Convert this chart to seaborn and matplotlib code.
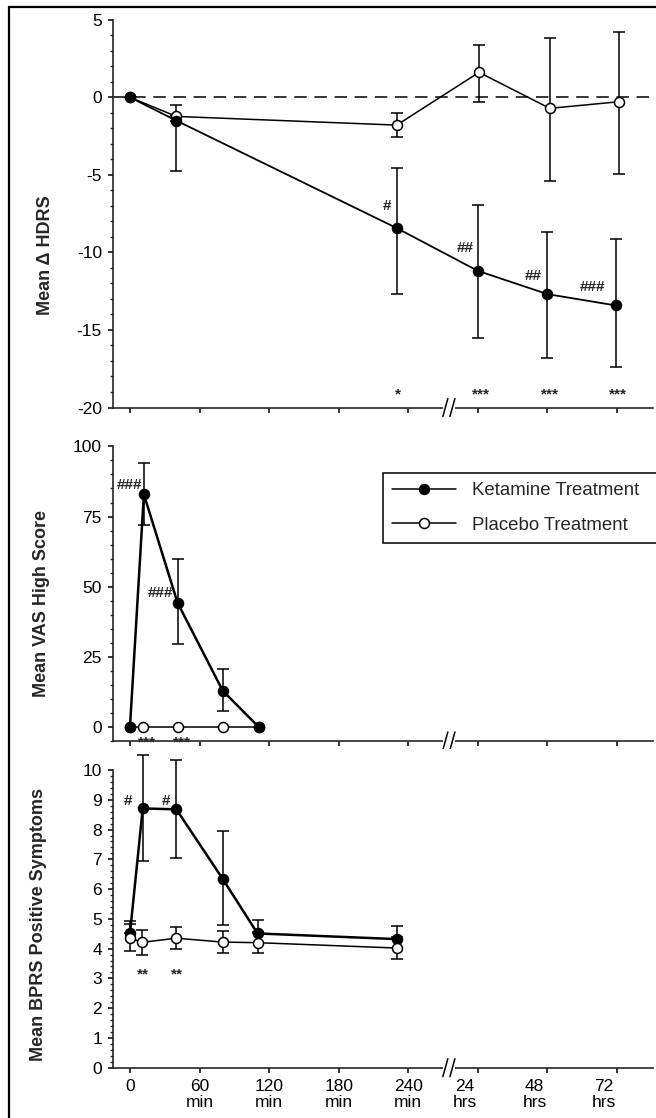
import numpy as np
import pandas as pd
import matplotlib
matplotlib.use("Agg")
import matplotlib.pyplot as plt
import matplotlib.transforms as mtransforms
from matplotlib.lines import Line2D
from matplotlib.ticker import MultipleLocator, FixedLocator
import seaborn as sns

# ---------------- data ----------------
# time axis in minutes; after the axis break 300 = 24 hrs, 360 = 48 hrs, 420 = 72 hrs
tick_positions = [0, 60, 120, 180, 240, 300, 360, 420]
tick_labels = ["0", "60\nmin", "120\nmin", "180\nmin", "240\nmin", "24\nhrs", "48\nhrs", "72\nhrs"]
legend_labels = ["Ketamine Treatment", "Placebo Treatment"]
ylabels = ["Mean \u0394 HDRS", "Mean VAS High Score", "Mean BPRS Positive Symptoms"]

# Panel 1: Mean change in HDRS
hdrs_ket_t = [0, 40, 230, 300, 360, 419]
hdrs_ket = [0.0, -1.5, -8.43, -11.19, -12.69, -13.42]
hdrs_ket_lo = [0, 3.27, 4.27, 4.36, 4.13, 4.0]
hdrs_ket_hi = [0, 0, 3.9, 4.22, 4.0, 4.26]
hdrs_pla_t = [0, 40, 230, 301, 362, 422]
hdrs_pla = [0.0, -1.23, -1.79, 1.61, -0.71, -0.28]
hdrs_pla_lo = [0, 0, 0.75, 1.93, 4.67, 4.67]
hdrs_pla_hi = [0, 0.75, 0.76, 1.78, 4.55, 4.47]
hdrs_hash = [("#", 222, -7.0), ("##", 289, -9.7), ("##", 348, -11.5), ("###", 399, -12.2)]
hdrs_star = [("*", 231, -18.9), ("***", 303, -18.9), ("***", 362.5, -18.9), ("***", 420.5, -18.9)]

# Panel 2: Mean VAS High score
vas_ket_t = [0, 12, 41, 80, 111]
vas_ket = [0.0, 82.9, 44.3, 12.9, 0.0]
vas_ket_lo = [0, 11.0, 14.7, 7.1, 0]
vas_ket_hi = [0, 11.3, 15.5, 7.7, 0]
vas_pla_t = [0, 11, 41, 80, 111]
vas_pla = [0.0, 0.0, 0.0, 0.0, 0.0]
vas_pla_lo = [0, 0, 0, 0, 0]
vas_pla_hi = [0, 0, 0, 0, 0]
vas_hash = [("###", -0.8, 86.2), ("###", 26, 47.7)]
vas_star = [("***", 14.4, -3.9), ("***", 44.5, -3.9)]

# Panel 3: Mean BPRS positive symptoms
bprs_ket_t = [0, 11, 40, 80, 110, 230]
bprs_ket = [4.51, 8.71, 8.68, 6.34, 4.51, 4.32]
bprs_ket_lo = [0, 1.75, 1.63, 1.53, 0, 0]
bprs_ket_hi = [0.42, 1.8, 1.65, 1.6, 0.45, 0.43]
bprs_pla_t = [0, 10, 40, 80, 110, 230]
bprs_pla = [4.37, 4.21, 4.35, 4.22, 4.2, 4.02]
bprs_pla_lo = [0.46, 0.41, 0.37, 0.37, 0.36, 0.37]
bprs_pla_hi = [0.46, 0.41, 0.37, 0.38, 0.36, 0.37]
bprs_hash = [("#", -1.5, 8.97), ("#", 31, 8.97)]
bprs_star = [("**", 11.6, 3.28), ("**", 40.5, 3.28)]

# ---------------- style ----------------
sns.set_theme(style="ticks")
plt.rcParams["font.family"] = ["Liberation Sans", "DejaVu Sans"]
plt.rcParams["lines.scale_dashes"] = False
plt.rcParams["axes.linewidth"] = 1.2
plt.rcParams["axes.unicode_minus"] = False

W, H = 656, 1118
fig = plt.figure(figsize=(W / 100, H / 100), dpi=100)
fig.patch.set_facecolor("white")


def px_axes(left, top, right, bottom):
    return fig.add_axes([left / W, 1 - bottom / H, (right - left) / W, (bottom - top) / H])


ax1 = px_axes(113.5, 19.8, 653, 407.5)
ax2 = px_axes(113.5, 446.4, 653, 741)
ax3 = px_axes(113.5, 749.2, 653, 1067.7)
axes_h_px = [407.5 - 19.8, 741 - 446.4, 1067.7 - 749.2]
XLIM = (-14.2, 451)
BREAK_LO, BREAK_HI, SLANT = 269.8, 280.2, 4.3


def draw_series(ax, t, v, lo, hi, filled, lw, z):
    df = pd.DataFrame({"t": t, "v": v})
    sns.lineplot(data=df, x="t", y="v", ax=ax, color="black", linewidth=lw,
                 marker="o", markersize=7.2,
                 markerfacecolor="black" if filled else "white",
                 markeredgecolor="black", markeredgewidth=1.1,
                 zorder=z, estimator=None, sort=False)
    lo = np.asarray(lo, float)
    hi = np.asarray(hi, float)
    m = (lo + hi) > 0
    if m.any():
        ax.errorbar(np.asarray(t, float)[m], np.asarray(v, float)[m],
                    yerr=[lo[m], hi[m]], fmt="none", ecolor="black",
                    elinewidth=1.1, capsize=4.3, capthick=1.1, zorder=z - 0.5)


def annotate(ax, items, star):
    for s, x, y in items:
        if star:
            tr = ax.transData + mtransforms.ScaledTranslation(0, -0.045, fig.dpi_scale_trans)
            ax.text(x, y, s, ha="center", va="center", fontsize=11, fontweight="bold",
                    transform=tr, zorder=8, clip_on=False)
        else:
            ax.text(x, y, s, ha="center", va="center", fontsize=11, fontweight="bold",
                    zorder=8, clip_on=False)


def add_break(ax, h_px):
    trans = ax.get_xaxis_transform()
    dy = 9 / h_px
    ax.plot([BREAK_LO, BREAK_HI], [0, 0], transform=trans, color="white", lw=4,
            clip_on=False, zorder=5, solid_capstyle="butt")
    for x0 in (BREAK_LO, BREAK_HI - SLANT):
        ax.plot([x0, x0 + SLANT], [-dy, dy], transform=trans, color="black", lw=1.1,
                clip_on=False, zorder=6)


# Panel 1
draw_series(ax1, hdrs_pla_t, hdrs_pla, hdrs_pla_lo, hdrs_pla_hi, False, 1.1, 3)
draw_series(ax1, hdrs_ket_t, hdrs_ket, hdrs_ket_lo, hdrs_ket_hi, True, 1.3, 4)
ax1.axhline(0, color="black", lw=1.1, ls=(0, (9, 5.5)), zorder=1)
annotate(ax1, hdrs_hash, False)
annotate(ax1, hdrs_star, True)
ax1.set_ylim(-20, 5)
ax1.yaxis.set_major_locator(MultipleLocator(5))
ax1.yaxis.set_minor_locator(MultipleLocator(1))
ax1.spines["left"].set_bounds(-20, 5)

# Panel 2
draw_series(ax2, vas_pla_t, vas_pla, vas_pla_lo, vas_pla_hi, False, 1.1, 3)
draw_series(ax2, vas_ket_t, vas_ket, vas_ket_lo, vas_ket_hi, True, 1.8, 4)
annotate(ax2, vas_hash, False)
annotate(ax2, vas_star, True)
ax2.set_ylim(-5, 100)
ax2.yaxis.set_major_locator(FixedLocator([0, 25, 50, 75, 100]))
ax2.yaxis.set_minor_locator(FixedLocator(np.arange(-5, 101, 5)))
ax2.spines["left"].set_bounds(-5, 100)

h_ket = Line2D([], [], color="black", lw=1.1, marker="o", ms=7.2, mfc="black", mec="black")
h_pla = Line2D([], [], color="black", lw=1.1, marker="o", ms=7.2, mfc="white", mec="black", mew=1.1)
leg = ax2.legend([h_ket, h_pla], legend_labels, loc="upper left",
                 bbox_to_anchor=(0.4994, 0.0, 0.53, 0.9107), mode="expand",
                 fontsize=13.4, frameon=True, fancybox=False, edgecolor="black",
                 framealpha=1, borderpad=0.5, handlelength=3.4, handletextpad=0.9,
                 labelspacing=0.95, borderaxespad=0)
leg.get_frame().set_linewidth(1.1)

# Panel 3
draw_series(ax3, bprs_ket_t, bprs_ket, bprs_ket_lo, bprs_ket_hi, True, 1.8, 3)
draw_series(ax3, bprs_pla_t, bprs_pla, bprs_pla_lo, bprs_pla_hi, False, 1.1, 4)
annotate(ax3, bprs_hash, False)
annotate(ax3, bprs_star, True)
ax3.set_ylim(0, 10.7)
ax3.yaxis.set_major_locator(FixedLocator(np.arange(0, 11, 1)))
ax3.yaxis.set_minor_locator(FixedLocator(np.round(np.arange(0, 10.01, 0.2), 2)))
ax3.spines["left"].set_bounds(0, 10)

label_pos = [(-0.111, 0.394), (-0.118, 0.467), (-0.123, 0.451)]
for ax, lab, (lx, ly), hpx in zip((ax1, ax2, ax3), ylabels, label_pos, axes_h_px):
    ax.set_xlim(*XLIM)
    ax.set_xlabel("")
    ax.set_ylabel(lab, fontsize=13, fontweight="bold")
    ax.yaxis.set_label_coords(lx, ly)
    ax.xaxis.set_major_locator(FixedLocator(tick_positions))
    ax.spines[["top", "right"]].set_visible(False)
    ax.spines["left"].set_linewidth(1.2)
    ax.spines["bottom"].set_linewidth(1.2)
    ax.tick_params(axis="both", which="major", direction="out", length=3.8, width=1.1,
                   labelsize=12.5, colors="black")
    ax.tick_params(axis="y", which="major", pad=4.5)
    ax.tick_params(axis="x", which="major", pad=4)
    ax.tick_params(axis="y", which="minor", direction="out", length=2.2, width=1.0, left=True)
    ax.tick_params(axis="x", which="minor", bottom=False)
    ax.set_facecolor("white")
    ax.grid(False)
    add_break(ax, hpx)

ax1.tick_params(axis="x", labelbottom=False)
ax2.tick_params(axis="x", labelbottom=False)
ax3.set_xticks(tick_positions, tick_labels)
shift = mtransforms.ScaledTranslation(-0.13, 0, fig.dpi_scale_trans)
for i, lbl in enumerate(ax3.get_xticklabels()):
    lbl.set_linespacing(1.1)
    if i >= 5:
        lbl.set_transform(lbl.get_transform() + shift)

# scanned-page frame (top and left edges)
fig.add_artist(Line2D([9 / W, 1], [1 - 7 / H, 1 - 7 / H], transform=fig.transFigure,
                      color="black", lw=1.6))
fig.add_artist(Line2D([9 / W, 9 / W], [0, 1 - 7 / H], transform=fig.transFigure,
                      color="black", lw=1.6))

fig.savefig("out.png", dpi=100, facecolor="white")
